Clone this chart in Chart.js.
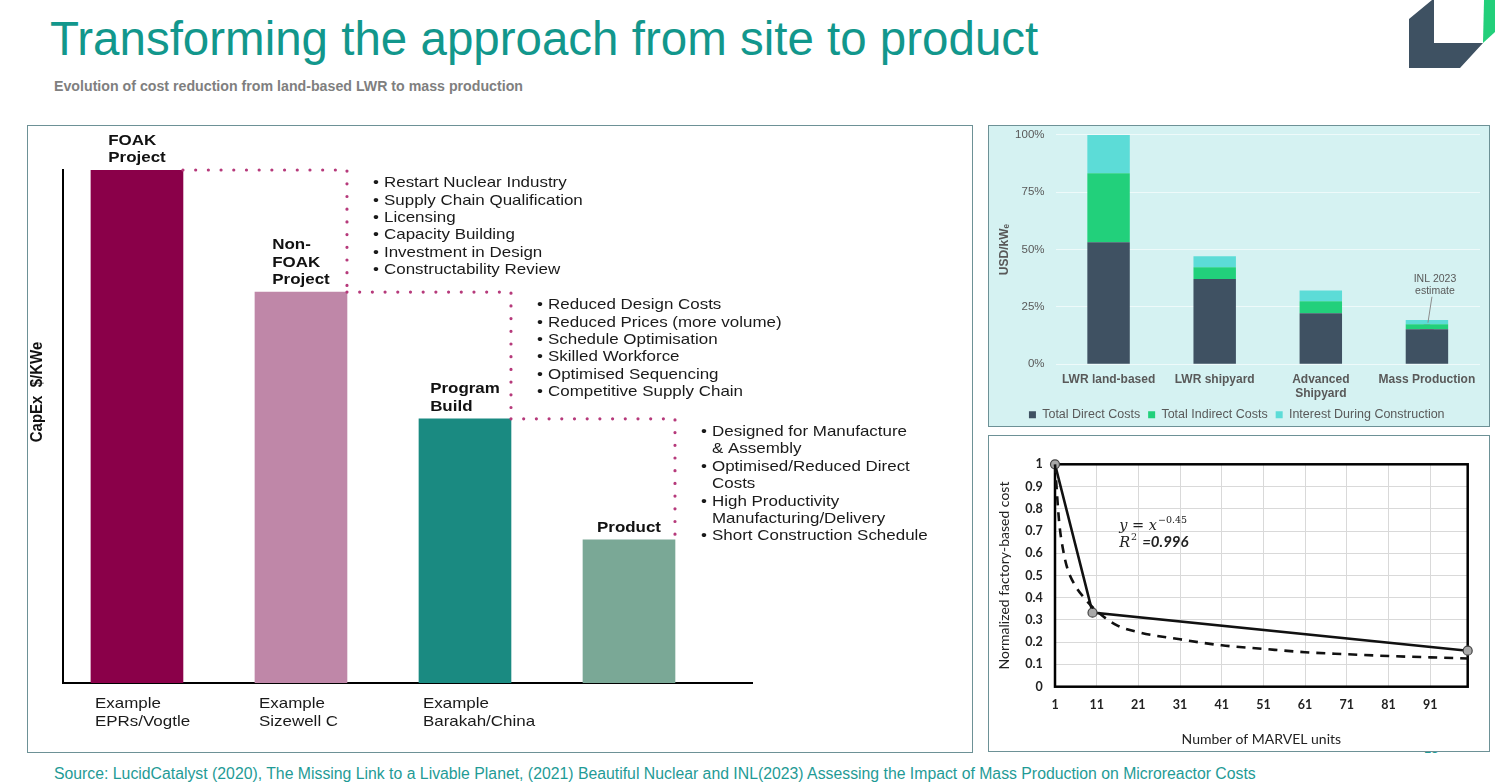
<!DOCTYPE html>
<html>
<head>
<meta charset="utf-8">
<script src="https://cdn.jsdelivr.net/npm/chart.js@4.4.0/dist/chart.umd.min.js"></script>
<style>
  body { margin: 0; background: #fff; font-family: "Liberation Sans", Arial, sans-serif; }
  #page { position: relative; width: 1495px; height: 783px; overflow: hidden; }
  .panel { position: absolute; box-sizing: border-box; border: 1.5px solid #6d9196; background: #fff; }
  canvas { position: absolute; }
  #title { position: absolute; left: 50px; top: 15px; font-size: 47.5px; line-height: 47px; color: #12978c; white-space: nowrap; }
  #subtitle { position: absolute; left: 54px; top: 79px; font-size: 14.2px; line-height: 14px; font-weight: bold; color: #7f7f7f; white-space: nowrap; }
  #source { position: absolute; left: 54px; top: 766px; font-size: 15.8px; line-height: 15px; color: #1f9b96; white-space: nowrap; }
  #pageno { position: absolute; left: 1424px; top: 741px; font-size: 13px; color: #1f9b96; }
</style>
</head>
<body>
<div id="page">
  <div id="title">Transforming the approach from site to product</div>
  <div id="subtitle">Evolution of cost reduction from land-based LWR to mass production</div>
  <svg style="position:absolute;left:0;top:0" width="1495" height="80">
    <polygon points="1409,68 1409,19 1432,0 1434,0 1434,43 1483,43 1460,68" fill="#3e5162"/>
    <polygon points="1484,0 1495,0 1495,32 1483,43" fill="#22cf7a"/>
  </svg>
  <div id="pageno">13</div>

  <div class="panel" style="left:27px;top:125px;width:946px;height:628px"></div>
  <div class="panel" style="left:988px;top:125px;width:502px;height:302px;background:#d5f2f2"></div>
  <div class="panel" style="left:988px;top:435px;width:502px;height:317px"></div>

  <canvas id="stages" width="944" height="626" style="left:28px;top:126px"></canvas>
  <canvas id="costs" width="498" height="314" style="left:990px;top:117px"></canvas>
  <canvas id="marvel" width="498" height="313" style="left:990px;top:437px"></canvas>

  <div id="source">Source: LucidCatalyst (2020), The Missing Link to a Livable Planet, (2021) Beautiful Nuclear and INL(2023) Assessing the Impact of Mass Production on Microreactor Costs</div>
</div>

<script>
// --- left: stages of cost reduction ---
const stageNames = [['FOAK', 'Project'], ['Non-', 'FOAK', 'Project'], ['Program', 'Build'], ['Product']];
const capex = [100, 76.2, 51.5, 27.9];
const exampleNames = [['Example', 'EPRs/Vogtle'], ['Example', 'Sizewell C'], ['Example', 'Barakah/China'], []];
const stepDrivers = [
  ['Restart Nuclear Industry', 'Supply Chain Qualification', 'Licensing', 'Capacity Building', 'Investment in Design', 'Constructability Review'],
  ['Reduced Design Costs', 'Reduced Prices (more volume)', 'Schedule Optimisation', 'Skilled Workforce', 'Optimised Sequencing', 'Competitive Supply Chain'],
  ['Designed for Manufacture\n& Assembly', 'Optimised/Reduced Direct\nCosts', 'High Productivity\nManufacturing/Delivery', 'Short Construction Schedule']
];
const stageColors = ['#8a0049', '#bf87a8', '#1a8a81', '#7aa896'];

// --- top right: cost breakdown ---
const costCats = [['LWR land-based'], ['LWR shipyard'], ['Advanced', 'Shipyard'], ['Mass Production']];
const directCosts = [53.2, 37.2, 22.3, 15.3];
const indirectCosts = [30.1, 5.1, 5.2, 2.2];
const interestCosts = [16.7, 4.8, 4.7, 1.8];
const inlEstimate = [null, null, null, 15.5];

// --- bottom right: MARVEL units ---
const marvelUnits = [1, 10, 100];
const marvelCost = [1, 0.333, 0.162];
const fitUnits = [1, 2, 3, 4, 6, 8, 11, 16, 21, 31, 41, 51, 61, 71, 81, 91, 100];
const fitCost = [1.0, 0.74, 0.61, 0.53, 0.45, 0.40, 0.34, 0.275, 0.245, 0.213, 0.186, 0.17, 0.155, 0.146, 0.138, 0.132, 0.127];
const unitTicks = [1, 11, 21, 31, 41, 51, 61, 71, 81, 91];

const SANS = '"Liberation Sans", Arial, sans-serif';
Chart.defaults.font.family = SANS;

// the left picture is stretched sideways in the slide
const SX = 1.13;
function sText(ctx, str, x, y) {
  ctx.save();
  ctx.translate(x, y);
  ctx.scale(SX, 1);
  ctx.fillText(str, 0, 0);
  ctx.restore();
}

const stageNotes = {
  id: 'stageNotes',
  afterDatasetsDraw(chart) {
    const ctx = chart.ctx;
    const bars = chart.getDatasetMeta(0).data;
    const box = bars.map(b => ({ l: b.x - b.width / 2, r: b.x + b.width / 2, c: b.x, t: b.y }));
    const base = chart.scales.y.getPixelForValue(0);
    ctx.save();
    ctx.textBaseline = 'middle';
    ctx.textAlign = 'left';

    ctx.fillStyle = '#111';
    ctx.font = 'bold 15px ' + SANS;
    stageNames.forEach((lines, i) => {
      const w = Math.max(...lines.map(s => ctx.measureText(s).width)) * SX;
      const x0 = box[i].c - w / 2;
      lines.forEach((s, k) => sText(ctx, s, x0, box[i].t - 12 - (lines.length - 1 - k) * 17.5));
    });

    // dotted steps between bar tops
    ctx.strokeStyle = '#b63a7b';
    ctx.lineWidth = 3.2;
    ctx.lineCap = 'round';
    ctx.setLineDash([0, 12.7]);
    for (let i = 0; i < box.length - 1; i++) {
      ctx.beginPath();
      ctx.moveTo(box[i].r, box[i].t);
      ctx.lineTo(box[i + 1].r, box[i].t);
      ctx.lineTo(box[i + 1].r, box[i + 1].t);
      ctx.stroke();
    }
    ctx.setLineDash([]);

    ctx.font = '15px ' + SANS;
    ctx.fillStyle = '#1a1a1a';
    stepDrivers.forEach((items, i) => {
      const vx = box[i + 1].r;
      let y = box[i].t + 13;
      items.forEach(item => {
        item.split('\n').forEach((s, k) => {
          if (k === 0) sText(ctx, '•', vx + 26, y);
          sText(ctx, s, vx + 37, y);
          y += 17.4;
        });
      });
    });

    exampleNames.forEach((lines, i) => {
      lines.forEach((s, k) => sText(ctx, s, box[i].l + 4, base + 21 + k * 17.4));
    });

    ctx.fillStyle = '#111';
    ctx.font = 'bold 15px ' + SANS;
    ctx.translate(chart.chartArea.left - 26, chart.chartArea.top + 222);
    ctx.rotate(-Math.PI / 2);
    ctx.scale(1, SX);
    ctx.textAlign = 'center';
    ctx.fillText('CapEx  $/KWe', 0, 0);
    ctx.restore();
  }
};

new Chart(document.getElementById('stages'), {
  type: 'bar',
  data: {
    datasets: [{
      data: capex.map((v, i) => ({ x: i, y: v })),
      backgroundColor: stageColors,
      barThickness: 92
    }]
  },
  options: {
    responsive: false,
    animation: false,
    layout: { padding: { left: 35, right: 220, top: 44, bottom: 69 } },
    plugins: { legend: { display: false }, tooltip: { enabled: false } },
    scales: {
      x: {
        type: 'linear', min: -0.451, max: 3.75, offset: false,
        grid: { display: false, drawTicks: false, offset: false },
        ticks: { display: false },
        border: { color: '#000', width: 2 }
      },
      y: {
        min: 0, max: 100,
        grid: { display: false, drawTicks: false },
        ticks: { display: false },
        border: { color: '#000', width: 2 }
      }
    }
  },
  plugins: [stageNotes]
});

const inlNote = {
  id: 'inlNote',
  afterDatasetsDraw(chart) {
    const p = chart.getDatasetMeta(3).data[3];
    const ctx = chart.ctx;
    ctx.save();
    ctx.strokeStyle = '#8c8c8c';
    ctx.lineWidth = 1;
    ctx.beginPath();
    ctx.moveTo(p.x + 5, p.y - 32);
    ctx.lineTo(p.x + 1, p.y - 6);
    ctx.stroke();
    ctx.fillStyle = '#595959';
    ctx.font = '10.5px ' + SANS;
    ctx.textAlign = 'center';
    ctx.textBaseline = 'middle';
    ctx.fillText('INL 2023', p.x + 8, p.y - 50);
    ctx.fillText('estimate', p.x + 8, p.y - 37.5);
    ctx.restore();
  }
};

new Chart(document.getElementById('costs'), {
  type: 'bar',
  data: {
    labels: costCats,
    datasets: [
      { label: 'Total Direct Costs', data: directCosts, backgroundColor: '#3f5162', stack: 'cost' },
      { label: 'Total Indirect Costs', data: indirectCosts, backgroundColor: '#22d07b', stack: 'cost' },
      { label: 'Interest During Construction', data: interestCosts, backgroundColor: '#5cdcd7', stack: 'cost' },
      {
        type: 'line', label: 'INL 2023 estimate', data: inlEstimate, stack: 'inl', showLine: false,
        pointStyle: 'rectRot', pointRadius: 7, pointBackgroundColor: '#ee80c8', pointBorderColor: '#ee80c8'
      }
    ]
  },
  options: {
    responsive: false,
    animation: false,
    barPercentage: 0.4,
    categoryPercentage: 1,
    layout: { padding: { top: 7.3, right: 4.5, left: 0, bottom: 0 } },
    plugins: {
      tooltip: { enabled: false },
      legend: {
        position: 'bottom',
        labels: {
          boxWidth: 7, boxHeight: 7, padding: 8, color: '#595959',
          font: { size: 12.5 },
          filter: item => item.datasetIndex < 3
        }
      }
    },
    scales: {
      x: {
        stacked: true,
        grid: { display: false, drawTicks: false },
        border: { display: false },
        ticks: { color: '#595959', font: { size: 12, weight: 'bold' }, padding: 7.8, maxRotation: 0, autoSkip: false },
        afterFit: s => { s.height = 36.2; }
      },
      y: {
        stacked: true, min: 0, max: 100,
        ticks: { stepSize: 25, callback: v => v + '%', color: '#595959', font: { size: 11.5 }, padding: 11 },
        grid: { color: 'rgba(255,255,255,0.6)', drawTicks: false },
        border: { display: false },
        title: { display: true, text: 'USD/kWₑ', color: '#595959', font: { size: 12, weight: 'bold' }, padding: { top: 7, bottom: 0 } },
        afterFit: s => { s.width = 65.5; }
      }
    }
  },
  plugins: [inlNote]
});

const LATO = 'Lato, "Open Sans", sans-serif';

const plotFrame = {
  id: 'plotFrame',
  beforeDatasetsDraw(chart) {
    const { ctx, chartArea: a } = chart;
    ctx.save();
    ctx.strokeStyle = '#000';
    ctx.lineWidth = 2.5;
    ctx.strokeRect(a.left, a.top, a.right - a.left, a.bottom - a.top);
    ctx.restore();
  },
  afterDatasetsDraw(chart) {
    const { ctx, scales: { x, y } } = chart;
    let px = x.getPixelForValue(16.4);
    let py = y.getPixelForValue(0.705);
    ctx.save();
    ctx.fillStyle = '#222';
    ctx.textBaseline = 'alphabetic';
    ctx.font = 'italic 14.5px "DejaVu Serif", serif';
    ctx.fillText('y = x', px, py);
    px += ctx.measureText('y = x').width + 1;
    ctx.font = '9.5px "DejaVu Serif", serif';
    ctx.fillText('−0.45', px, py - 7);
    px = x.getPixelForValue(16.4);
    py = y.getPixelForValue(0.63);
    ctx.font = 'italic 14.5px "DejaVu Serif", serif';
    ctx.fillText('R', px, py);
    px += ctx.measureText('R').width + 1;
    ctx.font = '9.5px "DejaVu Serif", serif';
    ctx.fillText('2', px, py - 7);
    px += ctx.measureText('2').width + 5;
    ctx.font = 'italic bold 15px ' + LATO;
    ctx.fillText('=0.996', px, py);
    ctx.restore();
  }
};

new Chart(document.getElementById('marvel'), {
  type: 'scatter',
  data: {
    datasets: [
      {
        data: fitUnits.map((u, i) => ({ x: u, y: fitCost[i] })),
        showLine: true, borderColor: '#111', borderWidth: 2.6, borderDash: [9, 7],
        pointRadius: 0, cubicInterpolationMode: 'monotone'
      },
      {
        data: marvelUnits.map((u, i) => ({ x: u, y: marvelCost[i] })),
        showLine: true, borderColor: '#111', borderWidth: 2.6,
        pointRadius: 4.5, pointBackgroundColor: '#a8a8a8', pointBorderColor: '#444', pointBorderWidth: 1.2
      }
    ]
  },
  options: {
    responsive: false,
    animation: false,
    clip: false,
    layout: { padding: { top: 27.3, right: 20.3, left: 0, bottom: 0 } },
    plugins: { legend: { display: false }, tooltip: { enabled: false } },
    scales: {
      x: {
        type: 'linear', min: 1, max: 100,
        afterBuildTicks: s => { s.ticks = unitTicks.map(v => ({ value: v })); },
        grid: { color: '#d9d9d9', drawTicks: false },
        border: { display: false },
        ticks: { color: '#222', font: { family: LATO, size: 12.5, weight: 'bold' }, padding: 10.8 },
        title: { display: true, text: 'Number of MARVEL units', color: '#222', font: { family: LATO, size: 14 }, padding: { top: 0, bottom: 2 } },
        afterFit: s => { s.height = 63.3; }
      },
      y: {
        min: 0, max: 1,
        ticks: {
          stepSize: 0.1, color: '#222', font: { family: LATO, size: 12.5, weight: 'bold' }, padding: 12.3,
          callback: v => String(Number(v.toFixed(1)))
        },
        grid: { color: '#d9d9d9', drawTicks: false },
        border: { display: false },
        title: { display: true, text: 'Normalized factory-based cost', color: '#222', font: { family: LATO, size: 14 }, padding: { top: 6, bottom: 0 } },
        afterFit: s => { s.width = 65; }
      }
    }
  },
  plugins: [plotFrame]
});
</script>
</body>
</html>
